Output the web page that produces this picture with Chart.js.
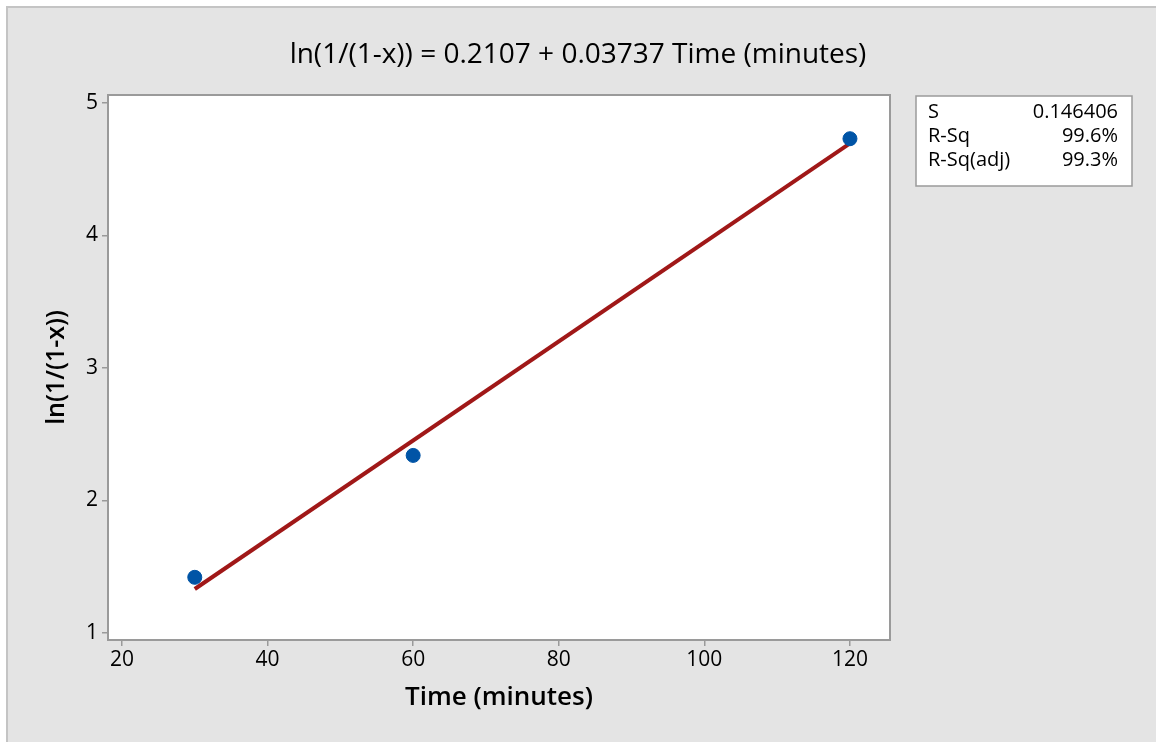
<!DOCTYPE html>
<html>
<head>
<meta charset="utf-8">
<script src="https://cdn.jsdelivr.net/npm/chart.js@4.4.0/dist/chart.umd.min.js"></script>
<style>
  html, body { margin: 0; padding: 0; background: #ffffff; overflow: hidden; }
  #wrap { width: 1156px; height: 742px; }
</style>
</head>
<body>
<div id="wrap"><canvas id="fitChart"></canvas></div>
<script>
const timeValues = [30, 60, 120];
const lnValues = [1.42, 2.34, 4.73];

// Fitted line end points
const fitTimes = [30, 120];
const fitValues = [1.332, 4.695];

const xTicks = [20, 40, 60, 80, 100, 120];
const yTicks = [1, 2, 3, 4, 5];

const chartTitle = 'ln(1/(1-x)) = 0.2107 + 0.03737 Time (minutes)';
const statLabels = ['S', 'R-Sq', 'R-Sq(adj)'];
const statValues = ['0.146406', '99.6%', '99.3%'];

const FONT = "'Open Sans', 'Noto Sans', sans-serif";

// gray panel, white plot area, title and stats box
const panelPlugin = {
    id: 'panel',
    beforeDraw(chart) {
        const ctx = chart.ctx;
        const area = chart.chartArea;
        ctx.save();
        ctx.fillStyle = '#ffffff';
        ctx.fillRect(0, 0, chart.width, chart.height);
        ctx.fillStyle = '#e4e4e4';
        ctx.fillRect(7, 7, chart.width - 7, chart.height - 7);
        ctx.strokeStyle = '#c4c4c4';
        ctx.lineWidth = 2;
        ctx.beginPath();
        ctx.moveTo(7, chart.height);
        ctx.lineTo(7, 7);
        ctx.lineTo(chart.width, 7);
        ctx.stroke();
        ctx.fillStyle = '#ffffff';
        ctx.fillRect(area.left, area.top, area.right - area.left, area.bottom - area.top);
        ctx.restore();
    },
    afterDraw(chart) {
        const ctx = chart.ctx;
        const area = chart.chartArea;
        ctx.save();
        ctx.strokeStyle = '#9a9a9a';
        ctx.lineWidth = 2;
        ctx.strokeRect(area.left, area.top, area.right - area.left, area.bottom - area.top);

        // title, centred on the whole panel
        ctx.fillStyle = '#000000';
        ctx.font = '28px ' + FONT;
        ctx.textAlign = 'center';
        ctx.textBaseline = 'middle';
        ctx.fillText(chartTitle, 578, 55);

        // stats box
        const bx = 916, by = 96, bw = 216, bh = 90;
        ctx.fillStyle = '#ffffff';
        ctx.fillRect(bx, by, bw, bh);
        ctx.strokeStyle = '#9a9a9a';
        ctx.lineWidth = 1.5;
        ctx.strokeRect(bx, by, bw, bh);
        ctx.fillStyle = '#000000';
        ctx.font = '20px ' + FONT;
        statLabels.forEach((lab, i) => {
            const y = by + 16 + i * 24;
            ctx.textAlign = 'left';
            ctx.fillText(lab, bx + 12, y);
            ctx.textAlign = 'right';
            ctx.fillText(statValues[i], bx + bw - 14, y);
        });
        ctx.restore();
    }
};

new Chart(document.getElementById('fitChart'), {
    type: 'scatter',
    data: {
        datasets: [
            {
                type: 'line',
                label: 'Fit',
                data: fitTimes.map((t, i) => ({ x: t, y: fitValues[i] })),
                borderColor: '#a01818',
                borderWidth: 4,
                pointRadius: 0,
                fill: false,
                order: 2
            },
            {
                label: 'Data',
                data: timeValues.map((t, i) => ({ x: t, y: lnValues[i] })),
                backgroundColor: '#0054a6',
                borderColor: '#0054a6',
                pointRadius: 7,
                order: 1
            }
        ]
    },
    options: {
        responsive: true,
        maintainAspectRatio: false,
        animation: false,
        layout: { padding: { left: 8, right: 266, top: 95, bottom: 0 } },
        plugins: {
            legend: { display: false },
            tooltip: { enabled: false },
            title: { display: false }
        },
        scales: {
            x: {
                type: 'linear',
                min: 18.08,
                max: 125.5,
                afterBuildTicks(scale) {
                    scale.ticks = xTicks.map(v => ({ value: v }));
                },
                afterFit(scale) { scale.height = 102; },
                grid: {
                    drawOnChartArea: false,
                    drawTicks: true,
                    tickLength: 6,
                    color: '#9a9a9a',
                    lineWidth: 1.5
                },
                border: { display: false },
                ticks: {
                    color: '#000000',
                    font: { family: FONT, size: 21 },
                    padding: 1,
                    maxRotation: 0
                },
                title: {
                    display: true,
                    text: 'Time (minutes)',
                    color: '#000000',
                    font: { family: FONT, size: 26, weight: '600' },
                    padding: { top: 0, bottom: 29 }
                }
            },
            y: {
                type: 'linear',
                min: 0.947,
                max: 5.06,
                afterBuildTicks(scale) {
                    scale.ticks = yTicks.map(v => ({ value: v }));
                },
                afterFit(scale) { scale.width = 100; },
                grid: {
                    drawOnChartArea: false,
                    drawTicks: true,
                    tickLength: 6,
                    color: '#9a9a9a',
                    lineWidth: 1.5
                },
                border: { display: false },
                ticks: {
                    color: '#000000',
                    font: { family: FONT, size: 21 },
                    padding: 4
                },
                title: {
                    display: true,
                    text: 'ln(1/(1-x))',
                    color: '#000000',
                    font: { family: FONT, size: 25, weight: '600' },
                    padding: { top: 34, bottom: 0 }
                }
            }
        }
    },
    plugins: [panelPlugin]
});
</script>
</body>
</html>
